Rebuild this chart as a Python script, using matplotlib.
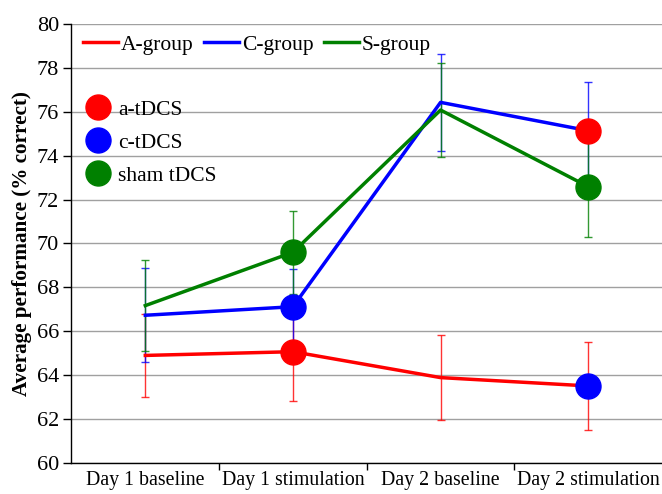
import matplotlib
matplotlib.use('Agg')
import matplotlib.pyplot as plt
from matplotlib.lines import Line2D

plt.rcParams['font.family'] = ['Liberation Serif', 'DejaVu Serif']

categories = ['Day 1 baseline', 'Day 1 stimulation', 'Day 2 baseline', 'Day 2 stimulation']
a_group = [64.9, 65.07, 63.89, 63.51]
a_err = [1.9, 2.26, 1.93, 2.0]
c_group = [66.73, 67.12, 76.43, 75.14]
c_err = [2.15, 1.7, 2.2, 2.2]
s_group = [67.17, 69.6, 76.08, 72.59]
s_err = [2.07, 1.9, 2.15, 2.3]

# stimulation-condition markers
atdcs_y = [a_group[1], c_group[3]]
ctdcs_y = [c_group[1], a_group[3]]
sham_y = [s_group[1], s_group[3]]
stim_x = [1, 3]

RED, BLUE, GREEN = '#ff0000', '#0000ff', '#008000'
XFS = 14.3
YFS = 16
LFS = 15.5

fig = plt.figure(figsize=(6.62, 4.94), dpi=100)
ax = fig.add_axes([0.108, 0.0628, 0.892, 0.8886])

x = list(range(len(categories)))
lines = []
for vals, errs, col, lab in [(a_group, a_err, RED, 'A-group'),
                              (c_group, c_err, BLUE, 'C-group'),
                              (s_group, s_err, GREEN, 'S-group')]:
    ax.errorbar(x, vals, yerr=errs, fmt='none', ecolor=col, elinewidth=1.0,
                capsize=2.6, capthick=1.0, alpha=0.8, zorder=2)
    ln, = ax.plot(x, vals, color=col, lw=2.5, label=lab, zorder=3)
    lines.append(ln)

ms = 18
ax.plot(stim_x, atdcs_y, 'o', color=RED, ms=ms, zorder=4, ls='none')
ax.plot(stim_x, ctdcs_y, 'o', color=BLUE, ms=ms, zorder=4, ls='none')
ax.plot(stim_x, sham_y, 'o', color=GREEN, ms=ms, zorder=4, ls='none')

ax.set_xlim(-0.5, 3.5)
ax.set_ylim(60, 80)
ax.set_yticks(range(60, 81, 2))
ax.set_xticks(x)
ax.set_xticklabels(categories, fontsize=XFS)
ax.set_xticks([0.5, 1.5, 2.5], minor=True)
ax.tick_params(axis='x', which='major', length=0, pad=6)
ax.tick_params(axis='x', which='minor', length=5, width=1, direction='out')
ax.tick_params(axis='y', labelsize=YFS, length=6, width=1, direction='out', pad=3)
ax.grid(axis='y', color='#a0a0a0', lw=1.0, zorder=0)
ax.set_axisbelow(True)
for s in ['top', 'right']:
    ax.spines[s].set_visible(False)
for s in ['left', 'bottom']:
    ax.spines[s].set_linewidth(1.0)
    ax.spines[s].set_color('black')

ax.set_ylabel('Average performance (% correct)', fontsize=15.2, fontweight='bold')
ax.yaxis.set_label_coords(-0.067, 0.5)

leg1 = fig.legend(handles=lines, loc='center left', bbox_to_anchor=(83 / 662, (494 - 45) / 494),
                  ncol=3, frameon=False, fontsize=LFS, handlelength=1.63, handletextpad=0.14,
                  columnspacing=0.47, borderaxespad=0, borderpad=0)

mh = [Line2D([], [], marker='o', color=c, ls='none', ms=ms) for c in (RED, BLUE, GREEN)]
fig.legend(handles=mh, labels=['a-tDCS', 'c-tDCS', 'sham tDCS'], loc='center left',
           bbox_to_anchor=(84.8 / 662, (494 - 142.5) / 494), frameon=False, fontsize=LFS,
           handletextpad=0.34, labelspacing=0.6, handlelength=1.2,
           borderaxespad=0, borderpad=0)

fig.savefig('out.png', dpi=100)
